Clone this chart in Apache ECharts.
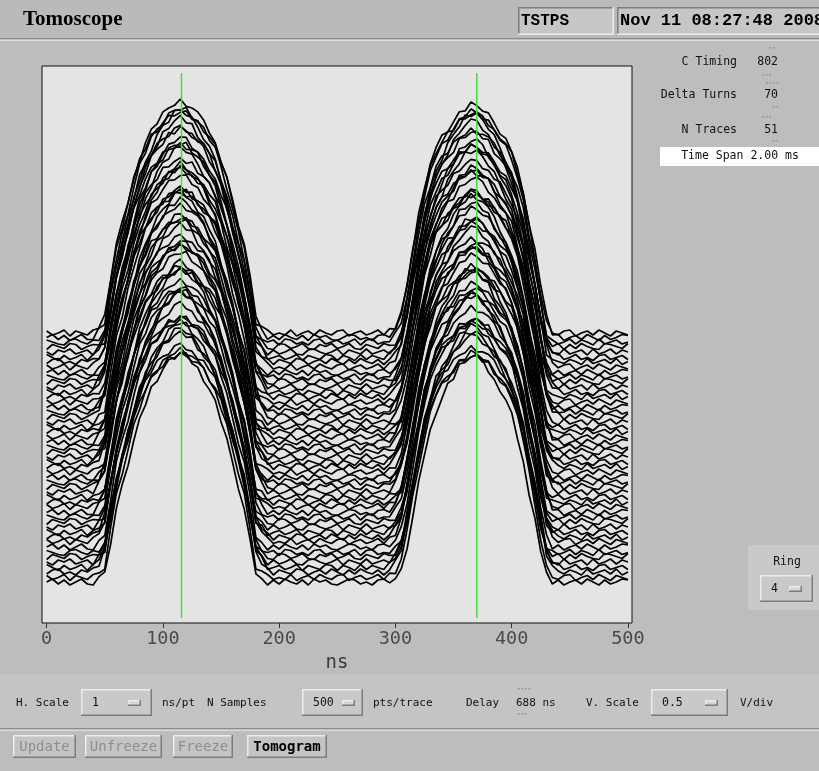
<!DOCTYPE html>
<html>
<head>
<meta charset="utf-8">
<title>Tomoscope</title>
<script src="https://cdn.jsdelivr.net/npm/echarts@6/dist/echarts.min.js"></script>
<style>
  html, body { margin: 0; padding: 0; background: #bdbdbd; }
  #scope { width: 819px; height: 771px; }
</style>
</head>
<body>
<div id="scope"></div>
<script>
// ---- time axis (ns) ----
const sampleNs = [
  0,5,10,15,20,25,30,35,40,45,50,55,60,65,70,75,80,85,90,95,
  100,105,110,115,120,125,130,135,140,145,150,155,160,165,170,175,180,185,190,195,
  200,205,210,215,220,225,230,235,240,245,250,255,260,265,270,275,280,285,290,295,
  300,305,310,315,320,325,330,335,340,345,350,355,360,365,370,375,380,385,390,395,
  400,405,410,415,420,425,430,435,440,445,450,455,460,465,470,475,480,485,490,495,
  500
];
const tickNs = [0, 100, 200, 300, 400, 500];

// bunch line density, relative to each trace's peak height,
// at three phases of the bunch-length oscillation
const shapeMid = [
  0,0,0,0,0,0,0,0,0,0.02, 0.05,0.21,0.36,0.46,0.56,0.66,0.75,0.82,0.87,0.91,
  0.94,0.97,0.99,1.00,0.99,0.97,0.94,0.91,0.87,0.82, 0.75,0.66,0.56,0.46,0.36,0.21,0.05,0.02,0,0,
  0,0,0,0,0,0,0,0,0,0, 0,0,0,0,0,0,0,0,0,0.01,
  0.03,0.08,0.20,0.35,0.49,0.62,0.72,0.80,0.84,0.875, 0.91,0.945,0.97,0.983,0.98,0.965,0.94,0.905,0.87,0.83,
  0.79,0.70,0.60,0.46,0.33,0.17,0.04,0,0,0, 0,0,0,0,0,0,0,0,0,0,
  0
];
const shapeShort = [
  0,0,0,0,0,0,0,0,0,0.015, 0.045,0.175,0.315,0.425,0.53,0.63,0.72,0.795,0.855,0.905,
  0.945,0.98,1.005,1.02,1.005,0.98,0.945,0.905,0.855,0.795, 0.72,0.63,0.53,0.425,0.315,0.175,0.045,0.015,0,0,
  0,0,0,0,0,0,0,0,0,0, 0,0,0,0,0,0,0,0,0,0.005,
  0.015,0.05,0.16,0.30,0.435,0.565,0.67,0.755,0.815,0.87, 0.915,0.96,0.985,1.0,0.998,0.978,0.945,0.90,0.855,0.80,
  0.74,0.645,0.535,0.40,0.275,0.135,0.03,0,0,0, 0,0,0,0,0,0,0,0,0,0,
  0
];
const shapeLong = [
  0,0,0,0,0,0,0,0,0.005,0.035, 0.10,0.255,0.395,0.495,0.595,0.685,0.765,0.825,0.868,0.903,
  0.93,0.953,0.968,0.975,0.968,0.953,0.93,0.903,0.868,0.825, 0.765,0.685,0.595,0.495,0.395,0.255,0.10,0.035,0.005,0,
  0,0,0,0,0,0,0,0,0,0, 0,0,0,0,0,0,0,0,0,0.01,
  0.04,0.105,0.235,0.385,0.525,0.645,0.735,0.805,0.845,0.878, 0.908,0.935,0.955,0.964,0.963,0.95,0.93,0.90,0.868,0.83,
  0.79,0.715,0.625,0.50,0.375,0.225,0.085,0.02,0.005,0, 0,0,0,0,0,0,0,0,0,0,
  0
];
const bunchShapes = [shapeMid, shapeShort, shapeLong];

// which oscillation phase each trace shows (0 mid, 1 short, 2 long)
const tracePhase = [
  1,0,2,2,0,1,1,0,2,2, 0,1,1,0,2,0,1,1,2,2,
  0,1,0,2,2,1,1,0,2,0, 1,1,0,2,2,0,1,0,2,2,
  1,0,1,2,0,2,1,1,0,2, 0
];

// baseline of each of the 51 traces (first trace at the bottom)
const traceOffset = [
  41,45.5,51,55.5,61,66.5,70.5,76,81.5,86,
  90.5,96,101.5,106,110.5,116.5,121,125.5,131,136.5,
  141,145.5,151,156.5,160.5,166,171.5,176,180.5,186,
  191.5,195.5,201,206.5,211,215.5,221,226.5,230.5,236,
  241.5,246,250.5,256,261.5,265.5,271,276.5,281,285.5,
  290
];

// peak height of each trace
const traceGain = [
  225,228,223,227,229,224,226,230,226,225,
  228,231,225,227,230,226,229,231,227,225,
  230,232,227,226,231,228,233,227,229,232,
  228,231,234,229,227,232,234,229,228,233,
  230,234,231,228,233,235,230,232,234,231,
  232
];

// pick-up ripple riding on the traces
const traceRipple = [
  [0,3,-2,2,-3,0,3,-2,-3,2, 0,-2,3,2,-3,0,2,-2,3,-3, 0,2,-2,0,3,-2,2,-3,0,3, -2,2,0,-3,2,3,-2,0,-3,2,
   -2,3,0,-2,2,-3,3,0,2,-2, -3,0,3,2,-2,0,-3,2,3,-2, 0,2,-3,-2,3,0,2,-2,0,3, -3,2,-2,0,3,2,-3,0,-2,2,
   3,-2,0,-3,2,0,3,-2,2,-3, 0,2,-2,3,0,-3,2,-2,0,3, 2],
  [2,-2,0,3,-3,2,0,-2,3,0, -3,2,2,-2,0,3,-3,0,2,-2, 3,0,-2,2,-3,0,3,2,-2,0, -3,3,0,-2,2,0,-3,2,3,-2,
   0,-2,3,-3,0,2,-2,3,0,-2, 2,3,-3,0,2,-2,0,3,-2,2, -3,0,2,3,-2,-3,2,0,3,-2, 0,2,-3,3,0,-2,2,0,-3,2,
   -2,3,0,2,-3,-2,3,0,-2,2, 3,-3,0,2,-2,3,0,-3,2,0, -2],
  [-2,2,3,-2,0,-3,2,0,3,-2, 2,-3,0,3,-2,2,0,-3,3,0, -2,3,-3,2,0,-2,2,3,-3,0, 2,-2,3,0,-3,2,-2,0,3,-3,
   2,0,-2,3,2,-3,0,2,-2,3, 0,-3,2,-2,3,0,-2,2,-3,0, 3,-2,0,2,-3,3,0,-2,2,0, -3,3,-2,0,2,-2,3,-3,0,2,
   0,-2,3,-2,0,3,-3,2,0,-2, 2,0,-3,3,-2,0,2,-2,3,-3, 0],
  [3,0,-3,2,-2,0,3,-3,2,0, -2,3,-2,0,2,-3,3,0,-2,2, 0,-3,2,3,-2,0,-3,2,0,3, -3,0,2,-2,3,0,-2,3,-3,0,
   2,-2,0,3,-3,2,0,-2,3,2, -3,2,0,-3,3,-2,2,0,-2,3, 0,-3,3,-2,0,2,-3,2,3,-2, 2,0,-2,3,-3,0,2,3,-2,0,
   -3,2,3,-3,0,2,-2,0,3,-2, 0,3,-2,0,-3,2,3,-2,0,2, -2],
  [0,-3,2,0,3,-2,0,2,-3,3, -2,0,2,-3,3,0,-2,2,0,-3, 3,-2,0,2,-2,3,-3,0,2,-2, 3,2,-3,0,-2,3,0,2,-3,2,
   -2,0,3,-2,-3,2,3,0,-2,0, 3,-3,2,0,-2,3,-2,0,2,-3, 2,3,-2,0,-3,2,-2,3,0,-3, 2,-2,0,3,2,-3,0,-2,3,0,
   -2,2,-3,0,3,-2,2,0,-3,3, -2,0,2,-3,3,-2,0,3,-2,2, 0],
  [-3,2,0,-2,3,2,-3,0,2,-2, 3,-2,-3,2,0,3,-2,0,-3,2, 2,-3,3,0,-2,2,0,-3,2,3, -2,0,-3,3,2,-2,0,3,-2,-3,
   3,2,-2,0,3,-2,-3,2,0,3, -2,0,3,-2,-3,2,0,-2,3,0, -2,3,-3,2,0,-2,3,0,-3,2, 0,-3,3,-2,2,0,-2,3,0,-2,
   2,0,-2,3,-2,-3,2,0,3,-3, 2,-2,3,0,-2,-3,3,2,0,-2, 3],
  [2,0,-2,-3,2,3,0,-2,2,-3, 0,3,-2,2,-3,0,3,-3,2,0, -3,2,0,-2,3,-3,0,2,-2,3, 0,-2,2,3,-3,0,3,-2,0,2,
   -3,3,2,-2,0,-3,2,3,-2,0, 2,-2,0,3,-3,2,3,-2,0,-2, 3,0,-2,-3,2,0,3,-2,2,-3, 0,2,-2,3,0,-3,2,0,-2,3,
   -3,0,2,-2,3,0,-3,2,-2,0, 3,-2,2,0,-3,3,-2,0,2,-2, 0]
];

// timing cursors (ns) and their vertical extent
const cursorNs = [116, 370];
const cursorSpan = [5, 550];

// panel readouts
const panelRows = [
  ['C Timing', '802'],
  ['Delta Turns', '70'],
  ['N Traces', '51']
];

// ---------------------------------------------------------------
const FRAME = { left: 42, top: 66, width: 590, height: 557 };
const MONO = '"DejaVu Sans Mono", monospace';
const UI_FONT = '11px ' + MONO;

const traceSeries = traceOffset.map((base, i) => {
  const ripple = traceRipple[i % traceRipple.length];
  const shape = bunchShapes[tracePhase[i]];
  return {
    type: 'line',
    name: 'trace ' + (i + 1),
    data: sampleNs.map((t, k) => [t, base + traceGain[i] * shape[k] + (ripple[k] ?? 0)]),
    symbol: 'none',
    silent: true,
    lineStyle: { color: '#000', width: 1.7 },
    z: 2
  };
});

const cursorSeries = cursorNs.map(t => ({
  type: 'line',
  data: [[t, cursorSpan[0]], [t, cursorSpan[1]]],
  symbol: 'none',
  silent: true,
  lineStyle: { color: '#3ee03e', width: 1.5 },
  z: 5
}));

// --- widget helpers for the control panel ---
function rect(x, y, w, h, fill) {
  return { type: 'rect', shape: { x, y, width: w, height: h }, style: { fill }, silent: true };
}
function bevel(x, y, w, h, fill, raised) {
  const light = raised ? '#ececec' : '#7c7c7c';
  const dark = raised ? '#7c7c7c' : '#ececec';
  return [
    rect(x, y, w, h, fill),
    rect(x, y, w, 1.5, light),
    rect(x, y, 1.5, h, light),
    rect(x, y + h - 1.5, w, 1.5, dark),
    rect(x + w - 1.5, y, 1.5, h, dark)
  ];
}
function label(text, x, y, opt = {}) {
  return {
    type: 'text', x, y, silent: true,
    style: {
      text,
      font: opt.font || UI_FONT,
      fill: opt.fill || '#111',
      textAlign: opt.align || 'left',
      textVerticalAlign: 'middle',
      align: opt.align || 'left',
      verticalAlign: 'middle',
      textShadowColor: opt.shadow || 'transparent',
      textShadowOffsetX: opt.shadow ? 1 : 0,
      textShadowOffsetY: opt.shadow ? 1 : 0
    }
  };
}
// small spinner marks around numeric fields
function dots(x, y, n) {
  const out = [];
  for (let j = 0; j < n; j++) out.push(rect(x + j * 3.5, y, 2, 1.5, '#9a9a9a'));
  return out;
}
function dropdown(x, y, w, text, iconX) {
  return [
    ...bevel(x, y, w, 27, '#c9c9c9', true),
    label(text, x + 11, y + 14, { font: '11.5px ' + MONO }),
    ...bevel(iconX, y + 11, 13, 6, '#d4d4d4', true)
  ];
}
function button(x, w, text, enabled) {
  return [
    ...bevel(x, 735, w, 23, '#c4c4c4', true),
    label(text, x + w / 2, 747, enabled
      ? { font: 'bold 14px ' + MONO, fill: '#000', align: 'center' }
      : { font: '14px ' + MONO, fill: '#8e8e8e', align: 'center', shadow: '#e2e2e2' })
  ];
}

const gui = [
  // title bar
  rect(0, 0, 819, 38, '#bababa'),
  rect(0, 38, 819, 1.5, '#8a8a8a'),
  rect(0, 39.5, 819, 1.5, '#dedede'),
  label('Tomoscope', 23, 20, { font: 'bold 21px "Liberation Serif", serif', fill: '#000' }),
  ...bevel(518, 7, 96, 28, '#c6c6c6', false),
  label('TSTPS', 521, 21, { font: 'bold 16px "Liberation Mono", monospace', fill: '#000' }),
  ...bevel(617, 7, 210, 28, '#c6c6c6', false),
  label('Nov 11 08:27:48 2008', 620, 21, { font: 'bold 17px "Liberation Mono", monospace', fill: '#000' }),

  // readout column
  ...panelRows.flatMap((row, i) => {
    const y = [62, 95, 130][i];
    return [label(row[0], 737, y, { align: 'right', font: '11.5px ' + MONO }),
            label(row[1], 778, y, { align: 'right', font: '11.5px ' + MONO })];
  }),
  ...dots(769, 47, 2), ...dots(762, 74, 3),
  ...dots(766, 82, 4), ...dots(772, 106, 2),
  ...dots(762, 116, 3), ...dots(772, 140, 2),
  rect(660, 147, 159, 19, '#ffffff'),
  label('Time Span 2.00 ms', 740, 156.5, { align: 'center', font: '11.5px ' + MONO }),

  // ring selector
  rect(748, 545, 71, 65, '#c9c9c9'),
  label('Ring', 787, 562, { align: 'center', font: '11.5px ' + MONO }),
  ...dropdown(760, 575, 53, '4', 789),

  // acquisition settings row
  rect(0, 675, 819, 53, '#c4c4c4'),
  rect(0, 728, 819, 1.5, '#8c8c8c'),
  rect(0, 729.5, 819, 1.5, '#dcdcdc'),
  label('H. Scale', 16, 703),
  ...dropdown(81, 689, 71, '1', 128),
  label('ns/pt', 162, 703),
  label('N Samples', 207, 703),
  ...dropdown(302, 689, 61, '500', 342),
  label('pts/trace', 373, 703),
  label('Delay', 466, 703),
  ...dots(518, 688, 4),
  label('688 ns', 516, 703),
  ...dots(518, 713, 3),
  label('V. Scale', 586, 703),
  ...dropdown(651, 689, 77, '0.5', 705),
  label('V/div', 740, 703),

  // command buttons
  ...button(13, 63, 'Update', false),
  ...button(85, 77, 'Unfreeze', false),
  ...button(173, 60, 'Freeze', false),
  ...button(247, 80, 'Tomogram', true)
];

const chart = echarts.init(document.getElementById('scope'), null, { renderer: 'canvas' });
chart.setOption({
  animation: false,
  backgroundColor: '#bdbdbd',
  grid: {
    left: FRAME.left, top: FRAME.top, width: FRAME.width, height: FRAME.height,
    show: true, backgroundColor: '#e4e4e4', borderColor: '#111', borderWidth: 1
  },
  xAxis: {
    type: 'value',
    min: -4, max: 503.5,
    name: 'ns',
    nameLocation: 'middle',
    nameGap: 30,
    nameTextStyle: { fontFamily: MONO, fontSize: 19, color: '#3c3c3c' },
    axisLine: { show: false },
    axisTick: { show: true, customValues: tickNs, length: 5, lineStyle: { color: '#333' } },
    axisLabel: { customValues: tickNs, margin: 7, fontFamily: MONO, fontSize: 18.5, color: '#4a4a4a' },
    splitLine: { show: false }
  },
  yAxis: { type: 'value', min: 0, max: FRAME.height, show: false },
  series: [...traceSeries, ...cursorSeries],
  graphic: { elements: gui }
});
</script>
</body>
</html>
